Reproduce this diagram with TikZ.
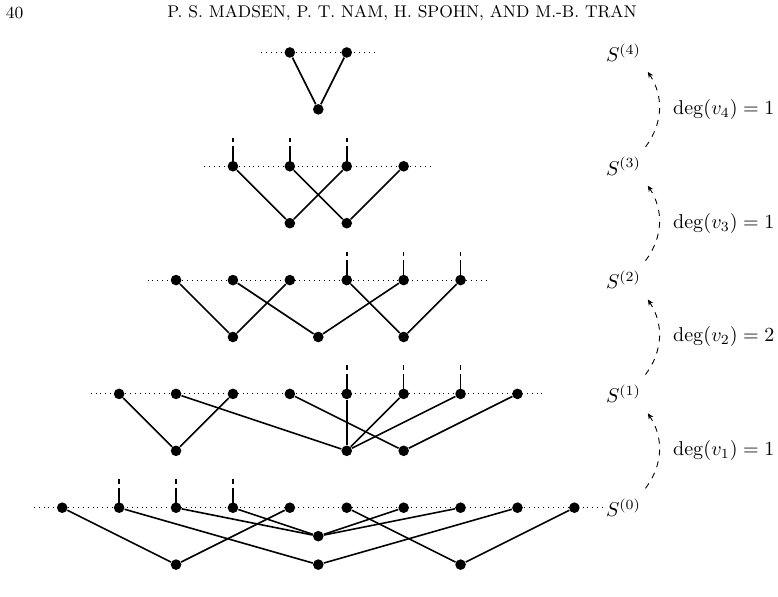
\documentclass[tikz,border=0pt]{standalone}
\usetikzlibrary{arrows.meta}
\begin{document}
\begin{tikzpicture}[x=0.5pt,y=-0.5pt,
  dot/.style={circle,fill=black,inner sep=0pt,minimum size=5.3pt},
  edge/.style={line width=0.8pt},
  stub/.style={line width=0.8pt,dash pattern=on 10pt off 2pt on 2.2pt},
  rowline/.style={dotted,line width=0.45pt},
  lvarrow/.style={dashed,line width=0.45pt,-{Stealth[length=3pt,width=2.6pt]}},
  hdr/.style={font=\fontsize{8.5}{10}\selectfont,inner sep=0pt},
  lab/.style={anchor=west,inner sep=0pt}]
\useasboundingbox (0,0) rectangle (778,596);
\node[hdr] (pg) at (14.7,13.3) {40};
\node[hdr] (title) at (402,13.3) {P. S. MADSEN, P. T. NAM, H. SPOHN, AND M.-B. TRAN};
\begin{scope}[shift={(318.3,507.7)},x=1cm,y=1cm]
  % level 0
  \foreach \i in {1,...,10} \node[dot] (a\i) at (-5.5+\i,0) {};
  \node[dot] (ax1) at (-2.5,-1) {};
  \node[dot] (ax2) at (0,-1) {};
  \node[dot] (ax3) at (2.5,-1) {};
  \node[dot] (am) at (0,-0.5) {};
  \draw[rowline] ([xshift=-0.5cm]a1.center) -- ([xshift=0.5cm]a10.center);
  \foreach \u/\v in {a1/ax1,a2/ax2,a3/am,a4/am,a5/ax1,a6/ax3,a7/am,a8/am,a9/ax2,a10/ax3}
    \draw[edge] (\u) -- (\v);
  \foreach \u in {a2,a3,a4} \draw[stub] (\u.center) -- ([yshift=0.5cm]\u.center);
  % level 1
  \foreach \i in {1,...,8} \node[dot] (b\i) at (-4.5+\i,2) {};
  \node[dot] (bx1) at (-2.5,1) {};
  \node[dot] (bx2) at (0.5,1) {};
  \node[dot] (bx3) at (1.5,1) {};
  \draw[rowline] ([xshift=-0.5cm]b1.center) -- ([xshift=0.5cm]b8.center);
  \foreach \u/\v in {b1/bx1,b2/bx2,b3/bx1,b4/bx3,b5/bx2,b6/bx2,b7/bx2,b8/bx3}
    \draw[edge] (\u) -- (\v);
  \foreach \u in {b5,b6,b7} \draw[stub] (\u.center) -- ([yshift=0.5cm]\u.center);
  % level 2
  \foreach \i in {1,...,6} \node[dot] (c\i) at (-3.5+\i,4) {};
  \node[dot] (cx1) at (-1.5,3) {};
  \node[dot] (cx2) at (0,3) {};
  \node[dot] (cx3) at (1.5,3) {};
  \draw[rowline] ([xshift=-0.5cm]c1.center) -- ([xshift=0.5cm]c6.center);
  \foreach \u/\v in {c1/cx1,c2/cx2,c3/cx1,c4/cx3,c5/cx2,c6/cx3}
    \draw[edge] (\u) -- (\v);
  \foreach \u in {c4,c5,c6} \draw[stub] (\u.center) -- ([yshift=0.5cm]\u.center);
  % level 3
  \foreach \i in {1,...,4} \node[dot] (d\i) at (-2.5+\i,6) {};
  \node[dot] (dx1) at (-0.5,5) {};
  \node[dot] (dx2) at (0.5,5) {};
  \draw[rowline] ([xshift=-0.5cm]d1.center) -- ([xshift=0.5cm]d4.center);
  \foreach \u/\v in {d1/dx1,d2/dx2,d3/dx1,d4/dx2}
    \draw[edge] (\u) -- (\v);
  \foreach \u in {d1,d2,d3} \draw[stub] (\u.center) -- ([yshift=0.5cm]\u.center);
  % level 4
  \foreach \i in {1,2} \node[dot] (e\i) at (-1.5+\i,8) {};
  \node[dot] (ex1) at (0,7) {};
  \draw[rowline] ([xshift=-0.5cm]e1.center) -- ([xshift=0.5cm]e2.center);
  \foreach \u/\v in {e1/ex1,e2/ex1}
    \draw[edge] (\u) -- (\v);
  % labels
  \foreach \k in {0,...,4} \node[lab] (S\k) at (5.05,2*\k) {$S^{(\k)}$};
  \foreach \k/\n in {1/1,2/2,3/1,4/1} {
    \coordinate (st\k) at (5.75,2*\k-2+0.34);
    \coordinate (en\k) at (5.79,2*\k-0.34);
    \draw[lvarrow] (st\k) to[bend right=35] (en\k);
    \node[lab] (g\k) at (6.23,2*\k-1) {$\deg(v_{\k})=\n$};
  }
\end{scope}
\end{tikzpicture}
\end{document}
